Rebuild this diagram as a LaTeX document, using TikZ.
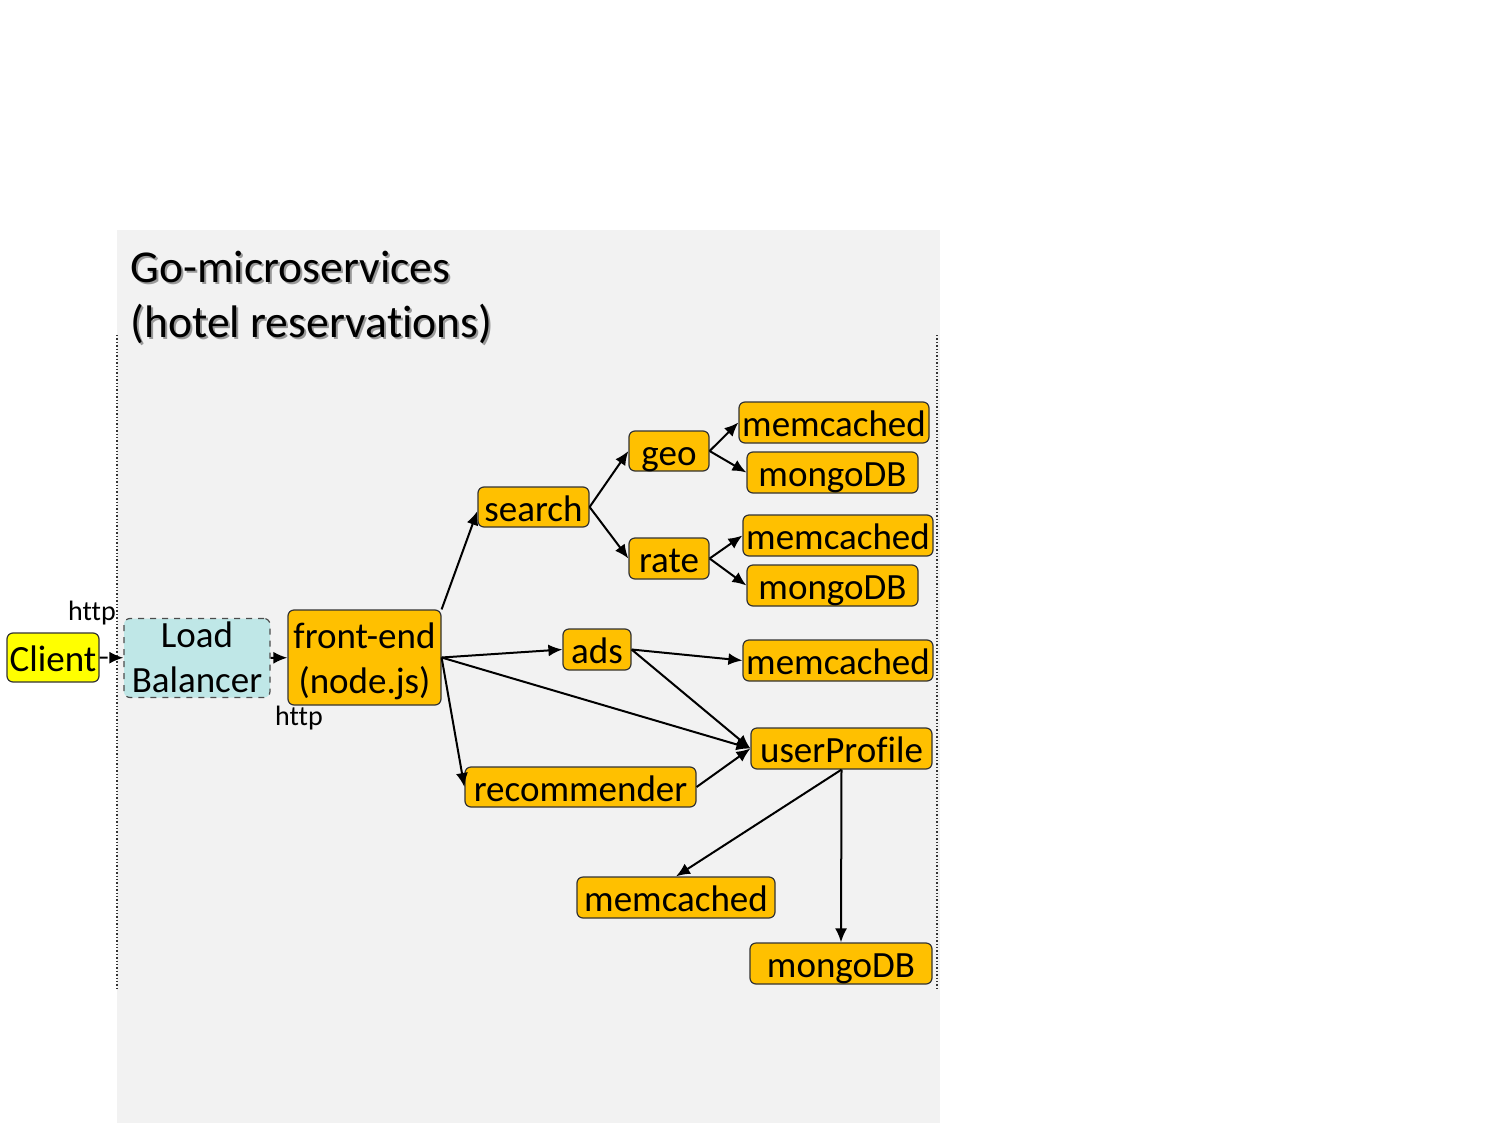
\documentclass[tikz,border=0pt]{standalone}
\usepackage{fontspec}
\setmainfont{Carlito}[Ligatures={NoCommon,NoContextual}, Contextuals=NoAlternate]
\usetikzlibrary{arrows.meta}
\definecolor{bgray}{HTML}{F2F2F2}
\definecolor{orng}{HTML}{FFC000}
\definecolor{yel}{HTML}{FFFF00}
\definecolor{lbc}{HTML}{BFE7E7}
\tikzset{
  svc/.style={draw=black!80, line width=0.6pt, rounded corners=3pt, fill=orng, inner sep=0pt,
    font=\fontsize{18.5}{22.5}\selectfont, align=center, text height=14pt, text depth=0pt},
  conn/.style={line width=1pt, -{Latex[length=7pt,width=6pt]}},
  lbl/.style={font=\fontsize{14}{16}\selectfont, inner sep=0pt},
}
\begin{document}
\begin{tikzpicture}[x=0.5pt,y=-0.5pt]
\useasboundingbox (0,0) rectangle (1500,1125);
\fill[bgray] (117,230) rectangle (940,1123);
\draw[densely dotted, line width=0.7pt, black!80] (117,335) -- (117,988);
\draw[densely dotted, line width=0.7pt, black!80] (937,335) -- (937,988);
% title with shadow
\node[anchor=base west, inner sep=0pt, text=black!40, font=\fontsize{22.8}{27}\selectfont] at (132,284) {Go-microservices};
\node[anchor=base west, inner sep=0pt, text=black!40, font=\fontsize{22.8}{27}\selectfont] at (132,339) {(hotel reserva\kern0pt tions)};
\node (t1) [anchor=base west, inner sep=0pt, font=\fontsize{22.8}{27}\selectfont] at (130,282) {Go-microservices};
\node (t2) [anchor=base west, inner sep=0pt, font=\fontsize{22.8}{27}\selectfont] at (130,337) {(hotel reserva\kern0pt tions)};
% nodes
\node (cl) [svc, fill=yel, minimum width=46pt, minimum height=24.5pt] at (53,657.5) {Client};
\node (lb) [svc, fill=lbc, draw=black!70, dashed, minimum width=73pt, minimum height=39.5pt, text height=34.5pt] at (197,658) {Load\\Balancer};
\node (fe) [svc, minimum width=76.5pt, minimum height=47.5pt, text height=35.5pt] at (364.5,657.5) {front-end\\(node.js)};
\node (search) [svc, minimum width=55.5pt, minimum height=20pt] at (533.5,507) {search};
\node (geo) [svc, minimum width=40pt, minimum height=20pt] at (669,451) {geo};
\node (rate) [svc, minimum width=40pt, minimum height=20.5pt] at (669,558.5) {rate};
\node (gmc) [svc, minimum width=95pt, minimum height=20.5pt] at (834,422.5) {memcached};
\node (gdb) [svc, minimum width=85.5pt, minimum height=20.5pt] at (832.5,472.5) {mongoDB};
\node (rmc) [svc, minimum width=95pt, minimum height=20.5pt] at (838,535.5) {memcached};
\node (rdb) [svc, minimum width=85.5pt, minimum height=20.5pt] at (832.5,585.5) {mongoDB};
\node (ads) [svc, minimum width=34pt, minimum height=20.5pt] at (597,649.5) {ads};
\node (amc) [svc, minimum width=95pt, minimum height=20.5pt] at (838,660.5) {memcached};
\node (up) [svc, minimum width=90.5pt, minimum height=20.5pt] at (841.5,748.5) {userProf\kern0pt ile};
\node (rec) [svc, minimum width=115.5pt, minimum height=20pt] at (580.5,787) {recommender};
\node (bmc) [svc, minimum width=99pt, minimum height=20.5pt] at (676,897.5) {memcached};
\node (bdb) [svc, minimum width=91pt, minimum height=20.5pt] at (841,963.5) {mongoDB};
% labels
\node (h1) [lbl] at (92,613) {http};
\node (h2) [lbl] at (299,718) {http};
% connectors
\draw[conn, dash pattern=on 4pt off 2pt] (cl) -- (lb);
\draw[conn] (lb) -- (fe);
\draw[conn] (fe.north east) -- ([yshift=-2pt]search.west);
\draw[conn] (fe.east) -- (ads.west);
\draw[conn] (fe.east) -- (up.west);
\draw[conn] (fe.east) -- (rec.west);
\draw[conn] (search.east) -- (geo.west);
\draw[conn] (search.east) -- (rate.west);
\draw[conn] (geo.east) -- (gmc.west);
\draw[conn] (geo.east) -- (gdb.west);
\draw[conn] (rate.east) -- (rmc.west);
\draw[conn] (rate.east) -- (rdb.west);
\draw[conn] (ads.east) -- (amc.west);
\draw[conn] (ads.east) -- (up.west);
\draw[conn] (rec.east) -- (up.west);
\draw[conn] (up.south) -- (bmc.north);
\draw[conn] (up.south) -- (bdb.north);
\end{tikzpicture}
\end{document}
